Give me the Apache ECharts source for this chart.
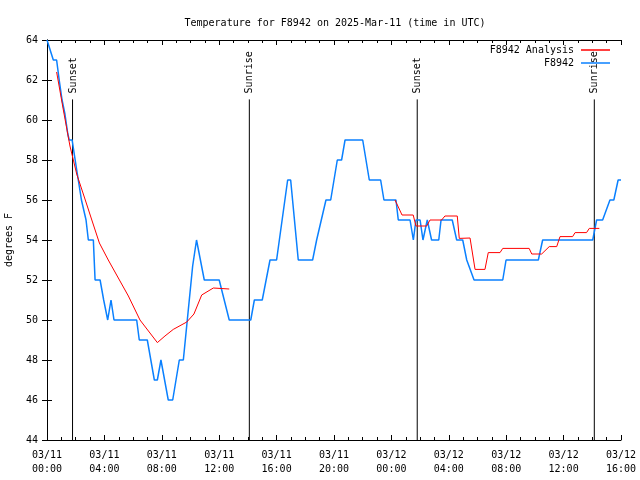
<!DOCTYPE html>
<html><head><meta charset="utf-8">
<script src="https://cdn.jsdelivr.net/npm/echarts@6/dist/echarts.min.js"></script>
<style>html,body{margin:0;padding:0;background:#fff}#c{width:640px;height:480px}</style>
</head><body><div id="c"></div>
<script>
// hours since 2025-03-11 00:00 UTC
const obsTimes = [0,0.44,0.67,0.85,1.05,1.25,1.45,1.55,1.75,2.07,2.4,2.72,2.88,3.23,3.35,3.7,3.95,4.23,4.46,4.67,6.25,6.43,6.99,7.48,7.69,7.94,8.45,8.76,9.22,9.5,10.15,10.42,10.52,10.96,12.0,12.7,14.2,14.45,15.0,15.54,16.0,16.77,16.98,17.51,18.51,18.79,19.44,19.77,20.23,20.53,20.77,22.0,22.46,23.25,23.48,24.32,24.48,25.3,25.53,25.71,26.0,26.2,26.5,26.8,27.3,27.46,28.24,28.55,28.97,29.25,29.76,31.76,31.99,34.24,34.54,38.03,38.3,38.72,39.23,39.5,39.8,40];
const obsTemps = [64,63,63,62,61,60.3,59.3,59,59,57.5,56,55,54,54,52,52,51,50,51,50,50,49,49,47,47,48,46,46,48,48,52.7,54,54,52,52,50,50,51,51,53,53,57,57,53,53,54,56,56,58,58,59,59,57,57,56,56,55,55,54,55,55,54,55,54,54,55,55,54,54,53,52,52,53,53,54,54,55,55,56,56,57,57];
const anaTimes = [0.67,1.14,1.6,2.07,2.76,3.1,3.65,4.27,4.97,5.67,6.48,7.69,8.22,8.8,9.74,10.24,10.78,11.59,12.7,
  18.5,
  24.25,24.45,24.74,25.52,25.71,26.46,26.69,27.5,27.73,28.59,28.73,29.48,29.83,30.52,30.75,31.57,31.76,33.6,33.78,34.47,35.0,35.52,35.75,36.63,36.8,37.6,37.79,38.49];
const anaTemps = [62.4,60.5,58.7,57.3,55.8,55.05,53.85,53,52.1,51.2,50,48.87,49.2,49.53,49.9,50.3,51.25,51.6,51.55,
  null,
  56,55.7,55.25,55.25,54.7,54.7,55,55,55.2,55.2,54.08,54.1,52.53,52.53,53.37,53.37,53.58,53.58,53.3,53.3,53.67,53.67,54.17,54.17,54.37,54.37,54.58,54.58];
const sunLabels = ['Sunset','Sunrise','Sunset','Sunrise'];
const sunTimes = [1.78,14.1,25.8,38.14];
const xTickLabels = ['03/11\n00:00','03/11\n04:00','03/11\n08:00','03/11\n12:00','03/11\n16:00','03/11\n20:00','03/12\n00:00','03/12\n04:00','03/12\n08:00','03/12\n12:00','03/12\n16:00'];
const titleText = 'Temperature for F8942 on 2025-Mar-11 (time in UTC)';

const FONT = 'DejaVu Sans Mono';
const chart = echarts.init(document.getElementById('c'), null, {renderer:'canvas'});
const obsData = obsTimes.map((t,i)=>[t,obsTemps[i]]);
const anaData = anaTimes.map((t,i)=>[t,anaTemps[i]]);
const lineStyleAxis = {show:true,lineStyle:{color:'#000',width:1}};
function xAx(pos, labels){
  return {type:'value',position:pos,min:0,max:40,interval:4,
    axisLine:lineStyleAxis,
    axisTick:{show:true,inside:true,length:5,lineStyle:{color:'#000'}},
    minorTick:{show:true,splitNumber:4,length:3,lineStyle:{color:'#000'}},
    splitLine:{show:false},minorSplitLine:{show:false},
    axisLabel:{show:labels,fontFamily:FONT,fontSize:10,color:'#000',margin:8,lineHeight:14,
      formatter:v=>xTickLabels[Math.round(v/4)]||''}};
}
function yAx(pos, labels){
  return {type:'value',position:pos,min:44,max:64,interval:2,
    axisLine:lineStyleAxis,
    axisTick:{show:true,inside:true,length:5,lineStyle:{color:'#000'}},
    splitLine:{show:false},
    axisLabel:{show:labels,fontFamily:FONT,fontSize:10,color:'#000',margin:9},
    name: labels?'degrees F':'',nameLocation:'middle',nameGap:33,nameRotate:90,
    nameTextStyle:{fontFamily:FONT,fontSize:10,color:'#000'}};
}
const sunSeries = sunTimes.map((t,i)=>({
  type:'line',xAxisIndex:0,yAxisIndex:0,silent:true,symbol:'none',
  data:[[t,44],[t,61.03]],lineStyle:{color:'#000',width:1},
  endLabel:{show:true,formatter:sunLabels[i],rotate:90,fontFamily:FONT,fontSize:10,color:'#000',
    offset:[6,-4.5],distance:5,align:'left',verticalAlign:'middle'},
  z:1
}));
chart.setOption({
  animation:false,
  backgroundColor:'#fff',
  title:{text:titleText,left:330,textAlign:'center',top:13,
    textStyle:{fontFamily:FONT,fontSize:10,fontWeight:'normal',color:'#000'}},
  legend:[
    {data:[{name:'F8942 Analysis',icon:'rect'}],right:30,top:45,padding:0,align:'right',itemWidth:29,itemHeight:1.5,
      textStyle:{fontFamily:FONT,fontSize:10,color:'#000',padding:[0,2,0,0]},selectedMode:false},
    {data:[{name:'F8942',icon:'rect'}],right:30,top:58,padding:0,align:'right',itemWidth:29,itemHeight:1.5,
      textStyle:{fontFamily:FONT,fontSize:10,color:'#000',padding:[0,2,0,0]},selectedMode:false}
  ],
  grid:{left:47,right:19,top:40,bottom:40,containLabel:false,outerBoundsMode:'none'},
  xAxis:[xAx('bottom',true),xAx('top',false)],
  yAxis:[yAx('left',true),yAx('right',false)],
  series:[
    ...sunSeries,
    {name:'F8942 Analysis',type:'line',data:anaData,symbol:'none',connectNulls:false,
      lineStyle:{color:'#ff0000',width:1},itemStyle:{color:'#ff0000'},z:3},
    {name:'F8942',type:'line',data:obsData,symbol:'none',
      lineStyle:{color:'#0a80ff',width:1.5},itemStyle:{color:'#0a80ff'},z:2}
  ]
});
</script></body></html>
